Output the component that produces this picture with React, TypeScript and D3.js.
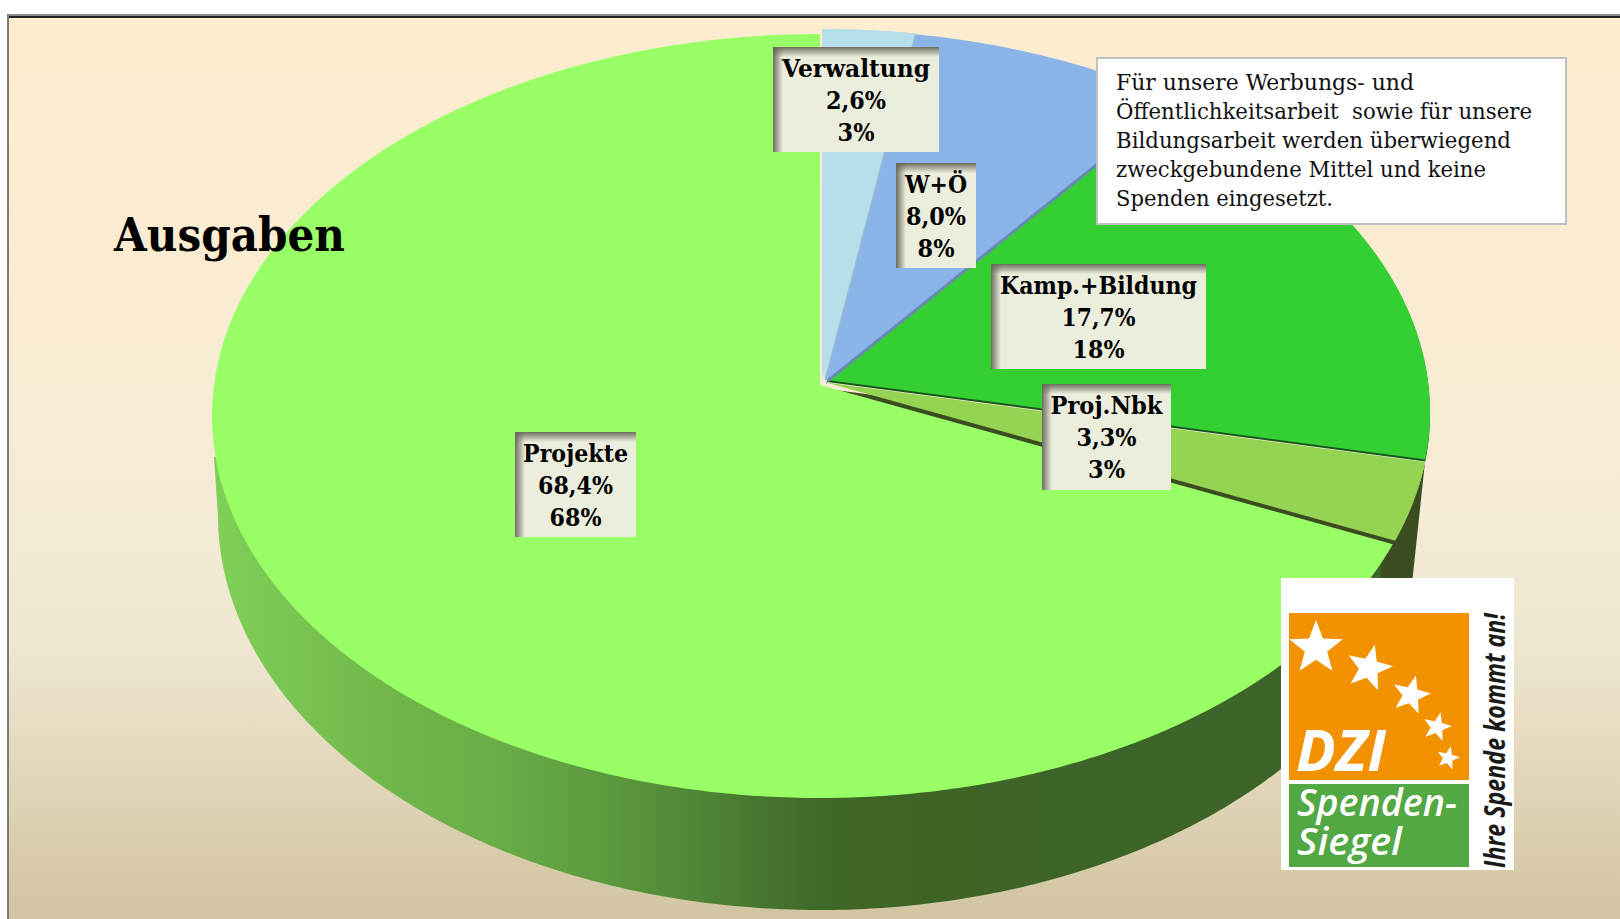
import React from "react";
import * as d3 from "d3";

// ---- data ----
const categories = ["Verwaltung", "W+Ö", "Kamp.+Bildung", "Proj.Nbk", "Projekte"];
const shares = [2.6, 8.0, 17.7, 3.3, 68.4];
const exactLabels = ["2,6%", "8,0%", "17,7%", "3,3%", "68,4%"];
const roundedLabels = ["3%", "8%", "18%", "3%", "68%"];
const noteLines = [
  "Für unsere Werbungs- und",
  "Öffentlichkeitsarbeit  sowie für unsere",
  "Bildungsarbeit werden überwiegend",
  "zweckgebundene Mittel und keine",
  "Spenden eingesetzt.",
];

// ---- styling & layout ----
const W = 1620, H = 919;
const SERIF = "'DejaVu Serif', serif";
const SANS = "'Open Sans', 'Noto Sans', sans-serif";
const sliceColors = ["#b7dfe9", "#8bb4e8", "#33cf33", "#95d352", "#99ff66"];
const wallColors = ["#9dbfca", "#6a89b4", "#17591c", "#3b4d20", "#3d6626"];
const base = { cx: 825, cy: 412, rx: 605, ry: 382, ax: 825, ay: 381 };
const sliceGeo = [
  { ...base, cx: 822, cy: 411, ax: 822, ay: 380 },
  { ...base },
  { ...base, ax: 827, ay: 380 },
  { ...base, ay: 382.5, ax: 826, cy: 413 },
  { cx: 820, cy: 416, rx: 608, ry: 382, ax: 820, ay: 385 },
];
const boxes = [
  { x: 773, y: 47, w: 166, h: 105, tw: [148, 60, 37] },
  { x: 896, y: 163, w: 80, h: 105, tw: [62, 60, 37] },
  { x: 991, y: 264, w: 215, h: 105, tw: [197, 74, 52] },
  { x: 1042, y: 384, w: 129, h: 106, tw: [112, 60, 37] },
  { x: 515, y: 432, w: 121, h: 105, tw: [105, 75, 52] },
];
const noteWidths = [298, 416, 395, 370, 217];
const stars = [
  { x: 1316, y: 648, r: 28, rot: 0 },
  { x: 1369, y: 668, r: 24, rot: 14 },
  { x: 1411, y: 695, r: 20, rot: 14 },
  { x: 1437, y: 727, r: 15, rot: 14 },
  { x: 1448, y: 758, r: 12, rot: 14 },
];

type Geo = typeof base;
const pieAngles = d3.pie<number>().sort(null).value((d) => d)(shares);

// A ray leaving the apex at pie angle a meets the top ellipse here.
function rim(g: Geo, a: number): [number, number] {
  const dx = base.rx * Math.sin(a), dy = -base.ry * Math.cos(a);
  const ox = g.ax - g.cx, oy = g.ay - g.cy;
  const A = (dx * dx) / (g.rx * g.rx) + (dy * dy) / (g.ry * g.ry);
  const B = 2 * ((ox * dx) / (g.rx * g.rx) + (oy * dy) / (g.ry * g.ry));
  const C = (ox * ox) / (g.rx * g.rx) + (oy * oy) / (g.ry * g.ry) - 1;
  const s = (-B + Math.sqrt(B * B - 4 * A * C)) / (2 * A);
  return [g.ax + s * dx, g.ay + s * dy];
}
const line = d3.line();
function rimPts(g: Geo, a0: number, a1: number): [number, number][] {
  const n = Math.max(2, Math.ceil((a1 - a0) / 0.01));
  return d3.range(n + 1).map((i) => rim(g, a0 + ((a1 - a0) * i) / n));
}
function slicePath(i: number): string {
  const g = sliceGeo[i], p = pieAngles[i];
  return line([[g.ax, g.ay], ...rimPts(g, p.startAngle, p.endAngle)])! + "Z";
}

// outline of the pie's lower edge
const lower = { cx: 820, cy: 515, ry: 395, rx: 602, cutX: 1384 };
function projektWall(): string {
  const g = sliceGeo[4];
  const pts: [number, number][] = [];
  pts.push(rim(g, pieAngles[4].startAngle));
  const cut = Math.asin((lower.cutX - lower.cx) / lower.rx);
  pts.push([lower.cutX, lower.cy + lower.ry * Math.cos(cut)]);
  d3.range(cut, -Math.PI / 2 - 0.001, -0.01).forEach((t) => {
    pts.push([lower.cx + lower.rx * Math.sin(t), lower.cy + lower.ry * Math.cos(t)]);
  });
  pts.push([lower.cx - lower.rx - 4, lower.cy - 58]);
  pts.push([lower.cx - lower.rx + 40, lower.cy - 58]);
  return line(pts)! + "Z";
}
function nbkWall(): string {
  const g = sliceGeo[3], p = pieAngles[3];
  const rimP = rimPts(g, p.startAngle, p.endAngle);
  const a = rimP[0], b = rimP[rimP.length - 1];
  return line([...rimP, [b[0] - 14, b[1] + 20], [b[0] - 14, b[1] + 180], [a[0] - 16, a[1] + 150]])! + "Z";
}
function starPath(r: number): string {
  const pts = d3.range(10).map((i) => {
    const R = i % 2 ? r * 0.42 : r;
    const t = (i * Math.PI) / 5;
    return [R * Math.sin(t), -R * Math.cos(t)] as [number, number];
  });
  return line(pts)! + "Z";
}

const wallStops: [number, string][] = [
  [215, "#80d058"], [400, "#70b54a"], [500, "#6aad47"], [600, "#5d9b3f"],
  [700, "#4f8535"], [800, "#426c2a"], [860, "#3e6526"], [1400, "#3d6429"],
];
const wallX = d3.scaleLinear().domain([215, 1400]).range([0, 100]);
const bgStops: [number, string][] = [
  [16, "#feedcf"], [300, "#faecd2"], [520, "#f5ecd6"], [650, "#eee6d0"], [780, "#e1d6b9"], [919, "#d1c4a1"],
];
const bgY = d3.scaleLinear().domain([16, 919]).range([0, 100]);

export default function App() {
  return (
    <svg width={W} height={H} viewBox={`0 0 ${W} ${H}`} style={{ position: "fixed", left: 0, top: 0, display: "block", background: "#fff" }}>
      <defs>
        <linearGradient id="bg" x1="0" y1="0" x2="0" y2="1">
          {bgStops.map(([y, c], i) => <stop key={i} offset={`${bgY(y)}%`} stopColor={c} />)}
        </linearGradient>
        <linearGradient id="wall" gradientUnits="userSpaceOnUse" x1={215} x2={1400} y1={0} y2={0}>
          {wallStops.map(([x, c], i) => <stop key={i} offset={`${wallX(x)}%`} stopColor={c} />)}
        </linearGradient>
        <linearGradient id="shTop" x1="0" y1="0" x2="0" y2="1">
          <stop offset="0" stopColor="#66665a" stopOpacity={0.95} />
          <stop offset="1" stopColor="#66665a" stopOpacity={0} />
        </linearGradient>
        <linearGradient id="shLeft" x1="0" y1="0" x2="1" y2="0">
          <stop offset="0" stopColor="#66665a" stopOpacity={0.95} />
          <stop offset="1" stopColor="#66665a" stopOpacity={0} />
        </linearGradient>
      </defs>

      <rect x={8} y={16} width={W - 8} height={H - 16} fill="url(#bg)" />
      <rect x={7} y={14} width={W - 7} height={2} fill="#8a8a8a" />
      <rect x={8} y={16} width={W - 8} height={2} fill="#222" />
      <rect x={7} y={14} width={2} height={H - 14} fill="#7a7a7a" />

      {/* walls */}
      <path d={projektWall()} fill="url(#wall)" />
      <path d={nbkWall()} fill={wallColors[3]} />

      {/* top faces */}
      <path d={slicePath(2)} fill={wallColors[2]} transform="translate(0,2)" />
      <path d={slicePath(2)} fill={sliceColors[2]} />
      <path d={slicePath(0)} fill={wallColors[0]} transform="translate(3.5,0.5)" />
      <path d={slicePath(1)} fill={wallColors[1]} transform="translate(1,3)" />
      <path d={slicePath(1)} fill={sliceColors[1]} />
      <path d={slicePath(0)} fill={wallColors[0]} transform="translate(3,0.5)" />
      <path d={slicePath(0)} fill={sliceColors[0]} transform="translate(2.4,0.3)" />
      <path d={slicePath(0)} fill={sliceColors[0]} />
      <path d={slicePath(3)} fill={wallColors[3]} transform="translate(-2,6)" />
      <path d={slicePath(3)} fill={sliceColors[3]} />
      <path d={slicePath(4)} fill={sliceColors[4]} />

      <text x={114} y={251} fontFamily={SERIF} fontWeight={700} fontSize={47} textLength={231} lengthAdjust="spacingAndGlyphs" fill="#000">Ausgaben</text>

      {/* data labels */}
      {categories.map((c, i) => {
        const b = boxes[i];
        const mid = b.x + b.w / 2;
        const rows = [c, exactLabels[i], roundedLabels[i]];
        return (
          <g key={c}>
            <rect x={b.x} y={b.y} width={b.w} height={b.h} fill="#eceedd" />
            <rect x={b.x} y={b.y} width={b.w} height={10} fill="url(#shTop)" />
            <rect x={b.x} y={b.y} width={10} height={b.h} fill="url(#shLeft)" />
            {rows.map((t, j) => (
              <text key={j} x={mid} y={b.y + 30 + j * 32} textAnchor="middle" fontFamily={SERIF} fontWeight={700} fontSize={25}
                textLength={b.tw[j]} lengthAdjust="spacingAndGlyphs" fill="#000">{t}</text>
            ))}
          </g>
        );
      })}

      {/* note */}
      <rect x={1097} y={58} width={469} height={166} fill="#fff" stroke="#c0c0c0" strokeWidth={2} />
      {noteLines.map((t, i) => (
        <text key={i} x={1116} y={90 + i * 28.9} fontFamily={SERIF} fontSize={22} textLength={noteWidths[i]} lengthAdjust="spacingAndGlyphs" xmlSpace="preserve" fill="#111">{t}</text>
      ))}

      {/* seal */}
      <rect x={1281} y={578} width={233} height={292} fill="#fff" />
      <rect x={1289} y={613} width={180} height={167} fill="#f39200" />
      <rect x={1289} y={784} width={180} height={83} fill="#52a842" />
      {stars.map((s, i) => (
        <path key={i} d={starPath(s.r)} transform={`translate(${s.x},${s.y}) rotate(${s.rot})`} fill="#fff" />
      ))}
      <text x={1296} y={771} fontFamily={SANS} fontWeight={700} fontStyle="italic" fontSize={57} textLength={90} lengthAdjust="spacingAndGlyphs" fill="#fff">DZI</text>
      <text x={1297} y={816} fontFamily={SANS} fontWeight={600} fontStyle="italic" fontSize={37} textLength={160} lengthAdjust="spacingAndGlyphs" fill="#fff">Spenden-</text>
      <text x={1297} y={855} fontFamily={SANS} fontWeight={600} fontStyle="italic" fontSize={37} textLength={105} lengthAdjust="spacingAndGlyphs" fill="#fff">Siegel</text>
      <text transform="translate(1505,868) rotate(-90)" fontFamily={SANS} fontWeight={700} fontStyle="italic" fontSize={29} textLength={255} lengthAdjust="spacingAndGlyphs" fill="#1a1a1a">Ihre Spende kommt an!</text>
    </svg>
  );
}
